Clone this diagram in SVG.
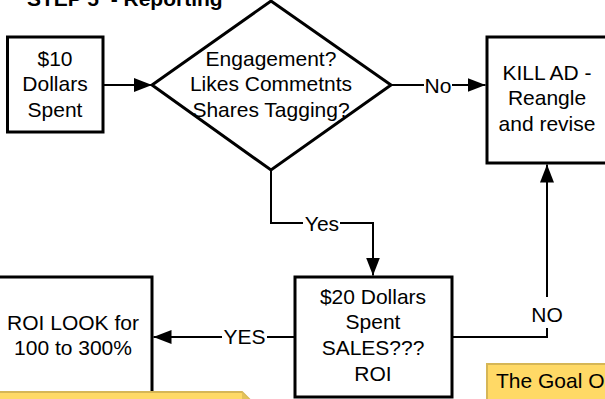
<svg xmlns="http://www.w3.org/2000/svg" width="605" height="399" viewBox="0 0 605 399">
<defs>
<style>
.box{fill:#fff;stroke:#000;stroke-width:3}
.t{font-family:"Liberation Sans",Arial,sans-serif;font-size:21px;fill:#000;text-anchor:middle}
.title{font-family:"Liberation Sans",Arial,sans-serif;font-size:21px;font-weight:bold;fill:#000}
.c{fill:none;stroke:#000;stroke-width:2}
.lbg{fill:#fff}
.note{fill:#FFD966;stroke:#D6B656;stroke-width:2}
.nt{font-family:"Liberation Sans",Arial,sans-serif;font-size:21px;fill:#000}
</style>
<marker id="ah" markerUnits="userSpaceOnUse" markerWidth="18" markerHeight="14" refX="18" refY="7" orient="auto">
<path d="M0,0 L18,7 L0,14 Z" fill="#000"/>
</marker>
</defs>
<rect width="605" height="399" fill="#fff"/>
<text class="title" x="27" y="5.5" xml:space="preserve">STEP 5  - Reporting</text>

<g id="connectors">
<path class="c" d="M103,85 L152,85" marker-end="url(#ah)"/>
<path class="c" d="M391,85 L485.5,85" marker-end="url(#ah)"/>
<path class="c" d="M271,170 L271,223 L373,223 L373,275.5" marker-end="url(#ah)"/>
<path class="c" d="M452,337 L547,337 L547,164.5" marker-end="url(#ah)"/>
<path class="c" d="M295,337 L153.5,337" marker-end="url(#ah)"/>
<rect class="lbg" x="424" y="74" width="28" height="22"/>
<text class="t" x="438" y="92.5">No</text>
<rect class="lbg" x="303" y="212" width="37" height="22"/>
<text class="t" x="322" y="230.5">Yes</text>
<rect class="lbg" x="222" y="326" width="45" height="22"/>
<text class="t" x="244.5" y="344">YES</text>
<rect class="lbg" x="535" y="297" width="24" height="31"/>
<text class="t" x="547" y="321.5">NO</text>
</g>

<g id="n-10">
<rect class="box" x="7.5" y="37" width="95.5" height="95"/>
<text class="t" x="55" y="65.5">$10</text>
<text class="t" x="55" y="91">Dollars</text>
<text class="t" x="55" y="116.5">Spent</text>
</g>

<g id="n-engagement">
<polygon class="box" points="271,1 391,85 271,170 152,85"/>
<text class="t" x="271" y="65.5">Engagement?</text>
<text class="t" x="271" y="91">Likes Commetnts</text>
<text class="t" x="271" y="116.5">Shares Tagging?</text>
</g>

<g id="n-kill">
<rect class="box" x="487" y="37" width="122" height="126"/>
<text class="t" x="547" y="79.5">KILL AD -</text>
<text class="t" x="547" y="105.3">Reangle</text>
<text class="t" x="547" y="131">and revise</text>
</g>

<g id="n-20">
<rect class="box" x="295" y="277" width="157" height="120"/>
<text class="t" x="373" y="303.5">$20 Dollars</text>
<text class="t" x="373" y="329.3">Spent</text>
<text class="t" x="373" y="355.1">SALES???</text>
<text class="t" x="373" y="380.9">ROI</text>
</g>

<g id="n-roi">
<rect class="box" x="-6" y="277" width="158" height="130"/>
<text class="t" x="73" y="330">ROI LOOK for</text>
<text class="t" x="73" y="355">100 to 300%</text>
</g>

<g id="note-left">
<polygon class="note" points="-5,392 242,392 251,401 251,410 -5,410"/>
<polygon points="242,392 242,401 251,401" fill="#E3C25A"/>
</g>

<g id="note-right">
<rect class="note" x="487" y="364" width="130" height="50"/>
<text class="nt" x="496" y="388">The Goal O</text>
</g>
</svg>
